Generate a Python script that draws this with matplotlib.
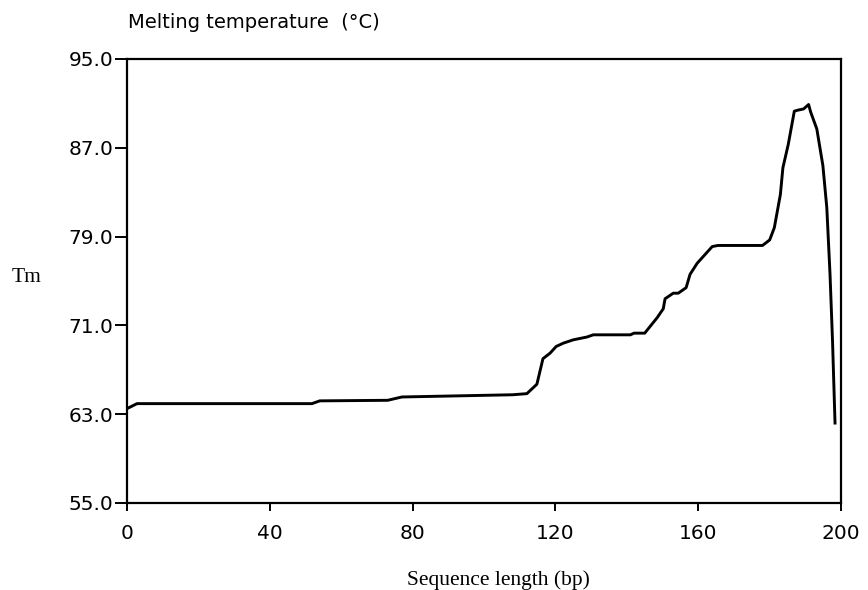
import numpy as np
import matplotlib
matplotlib.use('Agg')
import matplotlib.pyplot as plt

# Melting curve (sequence length bp, Tm in °C)
seq_len = [0, 2.8, 51.8, 54, 73, 77, 108, 112, 114.8, 116.5, 118.5, 120.2, 122.2,
           125, 128.8, 130.6, 141, 142, 145, 148.5, 150.2, 150.7, 153, 154.4, 156.6,
           157.7, 159.7, 163.9, 165.5, 178, 180, 181.3, 183, 183.7, 185.2, 186.9,
           188, 189.5, 190.9, 191.5, 193.2, 194.9, 196, 196.9, 197.6, 198.3]
tm = [63.5, 63.95, 63.95, 64.2, 64.25, 64.55, 64.75, 64.85, 65.7, 68.0, 68.5, 69.1, 69.4,
      69.7, 69.95, 70.15, 70.15, 70.3, 70.3, 71.7, 72.5, 73.4, 73.9, 73.9, 74.4,
      75.6, 76.6, 78.1, 78.2, 78.2, 78.7, 79.8, 82.8, 85.2, 87.3, 90.3,
      90.4, 90.5, 90.9, 90.2, 88.7, 85.4, 81.6, 75.6, 69.6, 62.2]

x_ticks = [0, 40, 80, 120, 160, 200]
y_ticks = [55, 63, 71, 79, 87, 95]

sans = ['DejaVu Sans']
serif = ['Liberation Serif', 'DejaVu Serif']

fig = plt.figure(figsize=(8.68, 5.9), dpi=100)
ax = fig.add_axes([0.1463, 0.1475, 0.969 - 0.1463, 0.90 - 0.1475])

ax.plot(seq_len, tm, color='black', linewidth=2.1)

ax.set_xlim(0, 200)
ax.set_ylim(55, 95)
ax.set_xticks(x_ticks)
ax.set_yticks(y_ticks)
ax.set_yticklabels(['%.1f' % v for v in y_ticks])
ax.tick_params(axis='x', direction='out', length=6, width=1.4, labelsize=14.5, pad=9)
ax.tick_params(axis='y', direction='out', length=9, width=1.4, labelsize=14.5, pad=1)
for lab in ax.get_xticklabels() + ax.get_yticklabels():
    lab.set_family(sans)
for sp in ax.spines.values():
    sp.set_linewidth(1.6)

# Axis titles
fig.text(128 / 868, 1 - 22 / 590, 'Melting temperature  (°C)', family=sans,
         fontsize=14, ha='left', va='center')
fig.text(12 / 868, 1 - 277 / 590, 'Tm', family=serif, fontsize=15.5,
         ha='left', va='center')
fig.text(498 / 868, 1 - 580 / 590, 'Sequence length (bp)', family=serif,
         fontsize=15.5, ha='center', va='center')

fig.savefig('out.png', dpi=100)
